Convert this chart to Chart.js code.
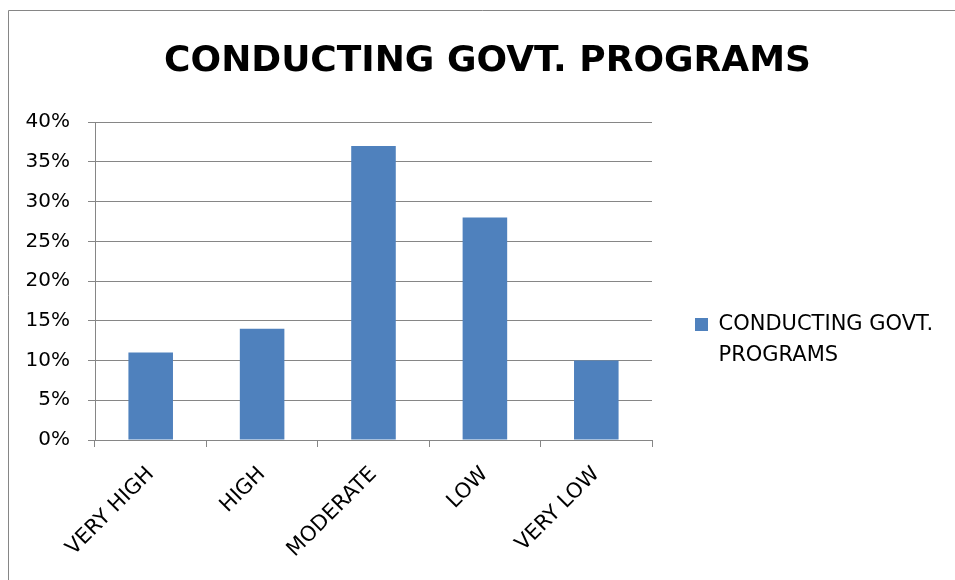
<!DOCTYPE html>
<html>
<head>
<meta charset="utf-8">
<script src="https://cdn.jsdelivr.net/npm/chart.js@4/dist/chart.umd.min.js"></script>
<style>
  html, body { margin: 0; padding: 0; background: #fff; }
  #wrap { width: 955px; height: 580px; }
</style>
</head>
<body>
<div id="wrap"><canvas id="govt_chart"></canvas></div>
<script>
// govt programs chart

const chart_title = 'CONDUCTING GOVT. PROGRAMS';
const series_label = ['CONDUCTING GOVT.', 'PROGRAMS'];

let categories = ['VERY HIGH', 'HIGH', 'MODERATE', 'LOW', 'VERY LOW'];
let percentages = [11, 14, 37, 28, 10];

let y_min = 0;
let y_max = 40;
let y_step = 5;

const axis_grey = '#868686';
const bar_blue = '#4F81BD';

Chart.defaults.font.family = "'DejaVu Sans', sans-serif";
Chart.defaults.color = '#000';

// grey outline of the chart box, runs off the right and bottom edges
const frame = {
    id: 'frame',
    beforeDraw(chart) {
        const ctx = chart.ctx;
        ctx.save();
        ctx.fillStyle = '#fff';
        ctx.fillRect(0, 0, chart.width, chart.height);
        ctx.strokeStyle = axis_grey;
        ctx.lineWidth = 1;
        ctx.beginPath();
        ctx.moveTo(8.5, chart.height);
        ctx.lineTo(8.5, 10.5);
        ctx.lineTo(chart.width + 5, 10.5);
        ctx.stroke();
        ctx.restore();
    }
};

// legend column on the right: fixed width, pushed down a bit
const legendPlace = {
    id: 'legendPlace',
    afterInit(chart) {
        const lg = chart.legend;
        const fit = lg.fit.bind(lg);
        lg.fit = function () {
            fit();
            this.width = 303;
        };
    },
    afterLayout(chart) {
        chart.legend.top = 271;
    }
};

const govt_data = {
    labels: categories,
    datasets: [{
        label: series_label,
        data: percentages,
        backgroundColor: bar_blue,
        borderWidth: 0,
        categoryPercentage: 1,
        barPercentage: 0.4
    }]
};

const govt_config = {
    type: 'bar',
    data: govt_data,
    plugins: [frame, legendPlace],
    options: {
        responsive: true,
        maintainAspectRatio: false,
        animation: false,
        layout: {
            padding: { left: 20, right: 0, top: 0, bottom: 0 }
        },
        plugins: {
            title: {
                display: true,
                text: chart_title,
                color: '#000',
                font: { size: 36, weight: 'bold' },
                padding: { top: 40, bottom: 39 }
            },
            legend: {
                display: true,
                position: 'right',
                align: 'start',
                labels: {
                    boxWidth: 13,
                    boxHeight: 13,
                    padding: 43,
                    font: { size: 21, lineHeight: 1.48 },
                    color: '#000'
                }
            },
            tooltip: { enabled: false }
        },
        scales: {
            x: {
                afterFit(scale) {
                    scale.height = 140;
                },
                grid: {
                    offset: true,
                    drawOnChartArea: false,
                    drawTicks: true,
                    tickLength: 7,
                    color: axis_grey
                },
                border: { color: axis_grey, width: 1 },
                ticks: {
                    minRotation: 45,
                    maxRotation: 45,
                    padding: 15,
                    font: { size: 21 },
                    color: '#000'
                }
            },
            y: {
                min: y_min,
                max: y_max,
                afterFit(scale) {
                    scale.width = 75;
                },
                grid: {
                    color: axis_grey,
                    tickLength: 7
                },
                border: { color: axis_grey, width: 1 },
                ticks: {
                    stepSize: y_step,
                    padding: 18,
                    font: { size: 20 },
                    color: '#000',
                    callback: (v) => v + '%'
                }
            }
        }
    }
};

const govt_chart = new Chart(
    document.getElementById('govt_chart'),
    govt_config
);
</script>
</body>
</html>
